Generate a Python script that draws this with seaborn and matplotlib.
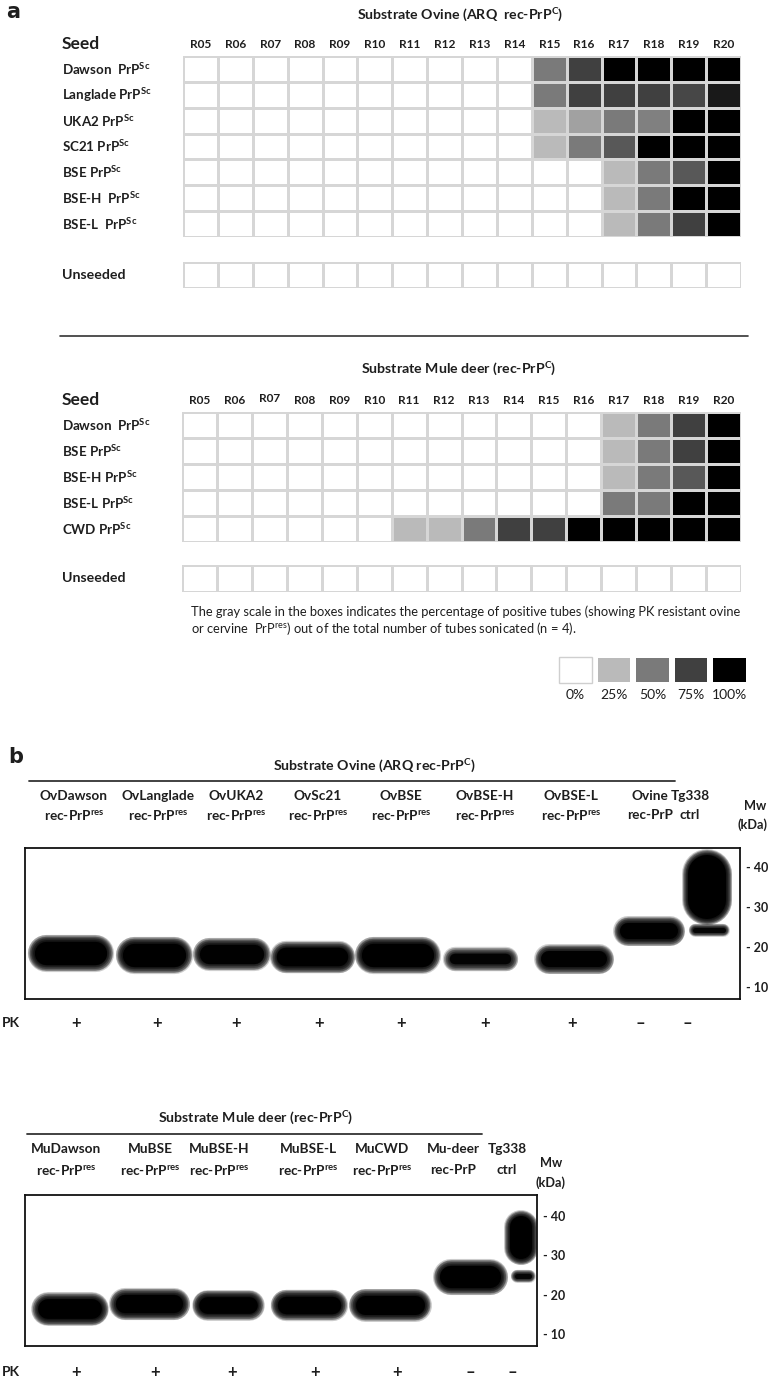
import numpy as np
import pandas as pd
import seaborn as sns
import matplotlib.pyplot as plt
import matplotlib.transforms as mtransforms
from matplotlib.colors import LinearSegmentedColormap
from matplotlib.patches import Rectangle

sns.set_style("white")
plt.rcParams['font.family'] = ['Lato', 'DejaVu Sans']
plt.rcParams['mathtext.fontset'] = 'custom'
plt.rcParams['mathtext.rm'] = 'Lato'
plt.rcParams['mathtext.bf'] = 'Lato:bold'
plt.rcParams['mathtext.it'] = 'Lato:italic'

# ---------------- data ----------------
rounds = ['R05', 'R06', 'R07', 'R08', 'R09', 'R10', 'R11', 'R12',
          'R13', 'R14', 'R15', 'R16', 'R17', 'R18', 'R19', 'R20']

ovine_seeds = ['Dawson  PrP', 'Langlade PrP', 'UKA2 PrP', 'SC21 PrP',
               'BSE PrP', 'BSE-H  PrP', 'BSE-L  PrP']
ovine_dawson   = [0, 0, 0, 0, 0, 0, 0, 0, 0, 0, 50, 75, 100, 100, 100, 100]
ovine_langlade = [0, 0, 0, 0, 0, 0, 0, 0, 0, 0, 50, 75, 75, 75, 72, 90]
ovine_uka2     = [0, 0, 0, 0, 0, 0, 0, 0, 0, 0, 25, 35, 50, 48, 100, 100]
ovine_sc21     = [0, 0, 0, 0, 0, 0, 0, 0, 0, 0, 25, 50, 65, 100, 100, 100]
ovine_bse      = [0, 0, 0, 0, 0, 0, 0, 0, 0, 0, 0, 0, 25, 50, 65, 100]
ovine_bseh     = [0, 0, 0, 0, 0, 0, 0, 0, 0, 0, 0, 0, 25, 50, 100, 100]
ovine_bsel     = [0, 0, 0, 0, 0, 0, 0, 0, 0, 0, 0, 0, 25, 50, 75, 100]

mule_seeds = ['Dawson  PrP', 'BSE PrP', 'BSE-H PrP', 'BSE-L PrP', 'CWD PrP']
mule_dawson = [0, 0, 0, 0, 0, 0, 0, 0, 0, 0, 0, 0, 25, 50, 75, 100]
mule_bse    = [0, 0, 0, 0, 0, 0, 0, 0, 0, 0, 0, 0, 25, 50, 75, 100]
mule_bseh   = [0, 0, 0, 0, 0, 0, 0, 0, 0, 0, 0, 0, 25, 50, 65, 100]
mule_bsel   = [0, 0, 0, 0, 0, 0, 0, 0, 0, 0, 0, 0, 50, 50, 100, 100]
mule_cwd    = [0, 0, 0, 0, 0, 0, 25, 25, 50, 75, 75, 100, 100, 100, 100, 100]

unseeded = [0] * 16

legend_levels = [0, 25, 50, 75, 100]
legend_labels = ['0%', '25%', '50%', '75%', '100%']

# western blots: lane labels, PK treatment, band apparent Mw (kDa), band height (kDa), intensity
ov_lanes_top = ['OvDawson', 'OvLanglade', 'OvUKA2', 'OvSc21', 'OvBSE',
                'OvBSE-H', 'OvBSE-L', 'Ovine', 'Tg338']
ov_lanes_bot = ['rec-PrP$^{\\mathbf{res}}$'] * 7 + ['rec-PrP', 'ctrl']
ov_pk = ['+', '+', '+', '+', '+', '+', '+', '\u2013', '\u2013']
ov_band_kda = [18.5, 18.0, 18.3, 17.5, 18.0, 17.0, 17.0, 24.0]
ov_band_h = [5.8, 5.8, 4.8, 4.6, 5.8, 2.6, 4.0, 4.0]
ov_band_int = [1.0, 1.0, 0.95, 1.0, 1.0, 0.85, 0.95, 1.0]
ov_ctrl_smear = (27.0, 43.0)
ov_ctrl_band = 24.3

mu_lanes_top = ['MuDawson', 'MuBSE', 'MuBSE-H', 'MuBSE-L', 'MuCWD',
                'Mu-deer', 'Tg338']
mu_lanes_bot = ['rec-PrP$^{\\mathbf{res}}$'] * 5 + ['rec-PrP', 'ctrl']
mu_pk = ['+', '+', '+', '+', '+', '\u2013', '\u2013']
mu_band_kda = [16.3, 17.6, 17.5, 17.3, 17.3, 24.5]
mu_band_h = [5.0, 4.6, 4.2, 4.4, 4.8, 5.6]
mu_band_int = [1.0, 1.0, 1.0, 1.0, 1.0, 1.0]
mu_ctrl_smear = (29.0, 40.0)
mu_ctrl_band = 24.8

mw_ticks = [10, 20, 30, 40]

# ---------------- layout helpers ----------------
W, H = 769, 1382
fig = plt.figure(figsize=(W / 100, H / 100), dpi=100)
INK = '#1e1e1e'


def axpx(x, y, w, h):
    return fig.add_axes([x / W, 1 - (y + h) / H, w / W, h / H])


def txt(x, y, s, **kw):
    kw.setdefault('va', 'center')
    kw.setdefault('color', INK)
    fig.text(x / W, 1 - y / H, s, **kw)


cmap = LinearSegmentedColormap.from_list(
    'pmca', [(0.0, '#ffffff'), (0.25, '#bababa'), (0.5, '#7a7a7a'),
             (0.75, '#414141'), (1.0, '#000000')])
GRID = '#d6d6d6'


def heat(ax, rows, labels, top_labels=True, raise_col=None):
    df = pd.DataFrame(rows, index=labels, columns=rounds)
    sns.heatmap(df, ax=ax, cmap=cmap, vmin=0, vmax=100, cbar=False,
                linewidths=1.0, linecolor=GRID, xticklabels=top_labels,
                yticklabels=False, square=False)
    ax.set_xlabel('')
    ax.set_ylabel('')
    if top_labels:
        ax.xaxis.tick_top()
        ax.tick_params(axis='x', length=0, pad=4)
        for t in ax.get_xticklabels():
            t.set_fontsize(8.6)
            t.set_fontweight('bold')
            t.set_rotation(0)
            t.set_color(INK)
        if raise_col is not None:
            tl = ax.get_xticklabels()[raise_col]
            tl.set_transform(tl.get_transform() +
                             mtransforms.ScaledTranslation(0, 2 / 100, fig.dpi_scale_trans))
    else:
        ax.set_xticks([])
    tr = mtransforms.blended_transform_factory(fig.transFigure, ax.transData)
    for i, lab in enumerate(labels):
        s = lab if lab == 'Unseeded' else lab + '$^{\\mathbf{Sc}}$'
        ax.text(62 / W, i + 0.5, s, transform=tr, ha='left', va='center',
                fontsize=9.6 if lab != 'Unseeded' else 10.2, fontweight='bold',
                color=INK)


# ---------------- panel a ----------------
txt(6, 12, 'a', fontsize=15, fontweight='bold', family='DejaVu Sans')
txt(460, 15, 'Substrate Ovine (ARQ  rec-PrP$^{\\mathbf{C}}$)', ha='center',
    fontsize=10.2, fontweight='bold')
txt(62, 44, 'Seed', fontsize=12.5, fontweight='bold')

ax1 = axpx(183, 56, 558, 181)
heat(ax1, [ovine_dawson, ovine_langlade, ovine_uka2, ovine_sc21,
           ovine_bse, ovine_bseh, ovine_bsel], ovine_seeds)
ax1u = axpx(183, 262, 558, 26)
heat(ax1u, [unseeded], ['Unseeded'], top_labels=False)

fig.add_artist(plt.Line2D([60 / W, 748 / W], [1 - 336 / H, 1 - 336 / H],
                          color='#333333', lw=1.2))

txt(459, 369, 'Substrate Mule deer (rec-PrP$^{\\mathbf{C}}$)', ha='center',
    fontsize=10.2, fontweight='bold')
txt(62, 400, 'Seed', fontsize=12.5, fontweight='bold')
ax2 = axpx(182, 412, 559, 130)
heat(ax2, [mule_dawson, mule_bse, mule_bseh, mule_bsel, mule_cwd],
     mule_seeds, raise_col=2)
ax2u = axpx(182, 565, 559, 27)
heat(ax2u, [unseeded], ['Unseeded'], top_labels=False)

txt(191, 612, 'The gray scale in the boxes indicates the percentage of positive tubes '
    '(showing PK resistant ovine', fontsize=9.3)
txt(191, 629, 'or cervine  PrP$^{\\mathrm{res}}$) out of the total number of tubes '
    'sonicated (n = 4).', fontsize=9.3)

axl = axpx(556, 655, 193, 30)
sns.heatmap(pd.DataFrame([legend_levels], columns=legend_labels), ax=axl,
            cmap=cmap, vmin=0, vmax=100, cbar=False, linewidths=4,
            linecolor='white', yticklabels=False)
axl.add_patch(Rectangle((0.07, 0.07), 0.86, 0.86, fill=False, ec='#cfcfcf', lw=1))
axl.tick_params(axis='x', length=0, pad=3)
for t in axl.get_xticklabels():
    t.set_fontsize(10)
    t.set_rotation(0)
    t.set_color(INK)

# ---------------- panel b ----------------


def soft_line(ax, xs, ys, width_px, alpha=1.0, blur=14, n=12, cap='round'):
    pt = 0.72
    for k in range(n):
        extra = blur * (1 - k / (n - 1))
        ax.plot(xs, ys, color='black', lw=(width_px + extra) * pt,
                alpha=0.2 * alpha, solid_capstyle=cap)
    ax.plot(xs, ys, color='black', lw=width_px * pt, alpha=alpha,
            solid_capstyle=cap)


def blot(box, xs, kdas, hs, ints, ctrl_x, smear, ctrl_band, ylim):
    x0, y0, w, h = box
    ax = axpx(x0, y0, w, h)
    ax.set_xlim(0, w)
    ax.set_ylim(*ylim)
    ax.set_facecolor('white')
    for s in ax.spines.values():
        s.set_visible(True)
        s.set_color('#111111')
        s.set_linewidth(1.3)
    ppk = h / (ylim[1] - ylim[0])  # pixels per kDa
    for (xa, xb), k, hh, it in zip(xs, kdas, hs, ints):
        hpx = hh * ppk
        ins = hpx / 2 + 4
        soft_line(ax, [xa + ins, xb - ins], [k, k], hpx, alpha=it)
    ca, cb = ctrl_x
    cw = cb - ca - 6
    r = cw / 2 / ppk
    soft_line(ax, [(ca + cb) / 2, (ca + cb) / 2], [smear[0] + r, smear[1] - r],
              cw, blur=12)
    soft_line(ax, [ca + 10, cb - 6], [ctrl_band, ctrl_band], 5, alpha=0.8, blur=8)
    ax.yaxis.tick_right()
    ax.set_yticks(mw_ticks)
    ax.set_yticklabels(['- %d' % v for v in mw_ticks], fontsize=9,
                       fontweight='bold', color=INK)
    ax.tick_params(axis='y', length=0, pad=4)
    ax.set_xticks([])
    return ax


LBL = 9.8

# ovine blot
txt(8, 757, 'b', fontsize=15, fontweight='bold', family='DejaVu Sans')
txt(374, 766, 'Substrate Ovine (ARQ rec-PrP$^{\\mathbf{C}}$)', ha='center',
    fontsize=10.2, fontweight='bold')
fig.add_artist(plt.Line2D([29 / W, 675 / W], [1 - 781 / H, 1 - 781 / H],
                          color='#333333', lw=1.3))
ov_label_x = [74, 158, 236, 318, 401, 485, 571, 650, 690]
for xl, t1, t2 in zip(ov_label_x, ov_lanes_top, ov_lanes_bot):
    txt(xl, 796, t1, ha='center', fontsize=LBL, fontweight='bold')
    txt(xl, 815, t2, ha='center', fontsize=LBL, fontweight='bold')
txt(766, 806, 'Mw', ha='right', fontsize=9.2, fontweight='bold')
txt(767, 825, '(kDa)', ha='right', fontsize=9.2, fontweight='bold')
ov_xs = [(5, 86), (93, 165), (170, 243), (248, 327), (332, 413),
         (421, 490), (512, 586), (591, 657)]
blot((25, 848, 715, 151), ov_xs, ov_band_kda, ov_band_h, ov_band_int,
     (660, 704), ov_ctrl_smear, ov_ctrl_band, (7.0, 44.75))
ov_pk_x = [76, 157, 236, 319, 401, 485, 572, 640, 687]
txt(2, 1023, 'PK', fontsize=10, fontweight='bold')
for xp, s in zip(ov_pk_x, ov_pk):
    txt(xp, 1023, s, ha='center', fontsize=12, fontweight='bold')

# mule deer blot
txt(256, 1118, 'Substrate Mule deer (rec-PrP$^{\\mathbf{C}}$)', ha='center',
    fontsize=10.2, fontweight='bold')
fig.add_artist(plt.Line2D([27 / W, 482 / W], [1 - 1134 / H, 1 - 1134 / H],
                          color='#333333', lw=1.3))
mu_label_x = [66, 150, 219, 308, 382, 453, 507]
for xl, t1, t2 in zip(mu_label_x, mu_lanes_top, mu_lanes_bot):
    txt(xl, 1149, t1, ha='center', fontsize=LBL, fontweight='bold')
    txt(xl, 1170, t2, ha='center', fontsize=LBL, fontweight='bold')
txt(551, 1163, 'Mw', ha='center', fontsize=9.2, fontweight='bold')
txt(551, 1183, '(kDa)', ha='center', fontsize=9.2, fontweight='bold')
mu_xs = [(9, 81), (87, 162), (170, 236), (248, 320), (327, 403), (411, 480)]
blot((25, 1195, 512, 151), mu_xs, mu_band_kda, mu_band_h, mu_band_int,
     (482, 510), mu_ctrl_smear, mu_ctrl_band, (7.0, 45.25))
mu_pk_x = [76, 155, 232, 315, 397, 470, 512]
txt(2, 1372, 'PK', fontsize=10, fontweight='bold')
for xp, s in zip(mu_pk_x, mu_pk):
    txt(xp, 1372, s, ha='center', fontsize=12, fontweight='bold')

fig.savefig('out.png', dpi=100)
